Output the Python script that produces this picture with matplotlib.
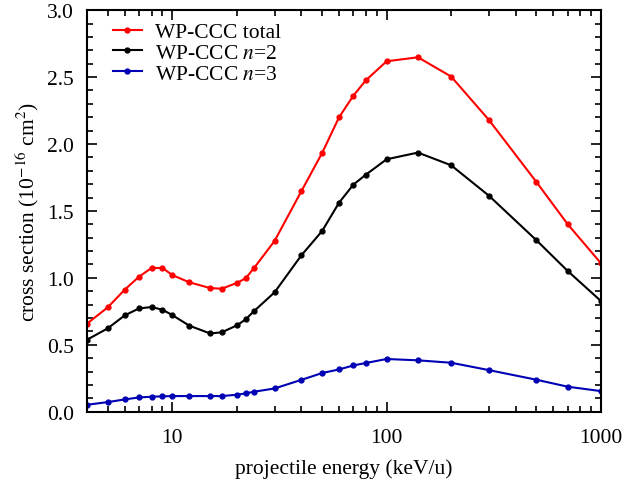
import matplotlib
matplotlib.use("Agg")
import matplotlib.pyplot as plt
from matplotlib.ticker import MultipleLocator, FixedLocator, NullFormatter, FormatStrFormatter

plt.rcParams["font.family"] = ["Liberation Serif", "DejaVu Serif"]
plt.rcParams["mathtext.fontset"] = "stix"

# projectile energy (keV/u)
energy = [4, 5, 6, 7, 8, 9, 10, 12, 15, 17, 20, 22, 24, 30, 40,
          50, 60, 70, 80, 100, 140, 200, 300, 500, 700, 1000]

sigma_total = [0.658, 0.780, 0.912, 1.009, 1.074, 1.074, 1.021, 0.967,
               0.924, 0.919, 0.962, 0.997, 1.071, 1.276, 1.647, 1.933,
               2.200, 2.362, 2.476, 2.618, 2.648, 2.504, 2.180, 1.716,
               1.400, 1.109]

sigma_n2 = [0.538, 0.623, 0.720, 0.772, 0.782, 0.762, 0.722, 0.643,
            0.585, 0.593, 0.645, 0.690, 0.750, 0.892, 1.168, 1.350,
            1.562, 1.697, 1.771, 1.886, 1.936, 1.841, 1.614, 1.281,
            1.051, 0.827]

sigma_n3 = [0.052, 0.072, 0.092, 0.107, 0.112, 0.115, 0.117, 0.117,
            0.117, 0.117, 0.127, 0.137, 0.149, 0.174, 0.238, 0.289,
            0.316, 0.346, 0.364, 0.394, 0.384, 0.366, 0.311, 0.239,
            0.187, 0.154]

FS = 15.5

fig = plt.figure(figsize=(6.26, 4.85), dpi=100)
ax = fig.add_axes([0.139, 0.149, 0.821, 0.828])

ax.plot(energy, sigma_total, color="#ff0000", lw=1.5, marker="o", ms=3.5,
        label="WP-CCC total")
ax.plot(energy, sigma_n2, color="black", lw=1.5, marker="o", ms=3.5,
        label="WP-CCC $n$=2")
ax.plot(energy, sigma_n3, color="#0000b4", lw=1.5, marker="o", ms=3.5,
        label="WP-CCC $n$=3")

ax.set_xscale("log")
ax.set_xlim(4, 1000)
ax.set_ylim(0, 3.0)

ax.xaxis.set_major_locator(FixedLocator([10, 100, 1000]))
ax.set_xticklabels(["10", "100", "1000"])
minor = [m * d for d in (1, 10, 100) for m in range(2, 10) if 4 <= m * d <= 1000]
ax.xaxis.set_minor_locator(FixedLocator(minor))
ax.xaxis.set_minor_formatter(NullFormatter())
ax.yaxis.set_major_locator(MultipleLocator(0.5))
ax.yaxis.set_minor_locator(MultipleLocator(0.1))
ax.yaxis.set_major_formatter(FormatStrFormatter("%.1f"))

ax.tick_params(which="both", direction="in", top=True, right=True,
               labelsize=FS, width=1.2)
ax.tick_params(which="major", length=7)
ax.tick_params(which="minor", length=4)
ax.tick_params(axis="x", which="major", pad=12)
ax.tick_params(axis="y", which="major", pad=9.5)
for s in ax.spines.values():
    s.set_linewidth(1.5)

ax.set_xlabel("projectile energy (keV/u)", fontsize=FS, labelpad=8)
ax.set_ylabel("cross section (10$^{-16}$ cm$^{2}$)", fontsize=FS, labelpad=4)

ax.legend(loc="upper left", frameon=False, fontsize=FS, handlelength=1.35,
          borderpad=0, borderaxespad=0, labelspacing=0.03, handletextpad=0.6,
          bbox_to_anchor=(0.05, 0.97))

fig.savefig("out.png", dpi=100)
